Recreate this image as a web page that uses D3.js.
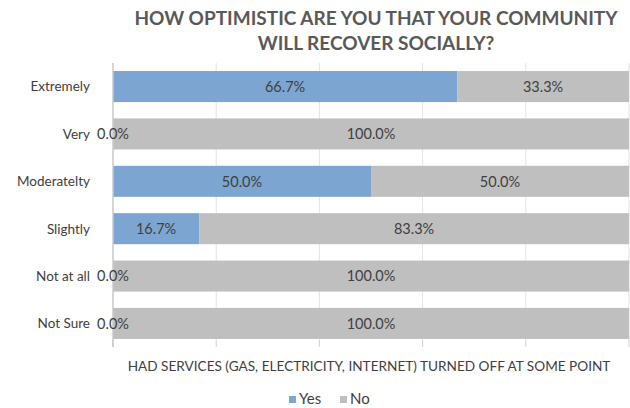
<!DOCTYPE html>
<html>
<head>
<meta charset="utf-8">
<script src="https://cdn.jsdelivr.net/npm/d3@7"></script>
<style>
  body { margin: 0; background: #fff; }
  svg { font-family: "Lato", "Open Sans", sans-serif; }
</style>
</head>
<body>
<svg id="viz"></svg>
<script>
// the data
var categories = ["Extremely", "Very", "Moderatelty", "Slightly", "Not at all", "Not Sure"];
var yesValues = [66.7, 0.0, 50.0, 16.7, 0.0, 0.0];
var noValues = [33.3, 100.0, 50.0, 83.3, 100.0, 100.0];
var seriesNames = ["Yes", "No"];
var seriesColors = ["#7ca5d1", "#bfbfbf"];
var xTicks = [0, 20, 40, 60, 80, 100];
var titleLines = ["HOW OPTIMISTIC ARE YOU THAT YOUR COMMUNITY", "WILL RECOVER SOCIALLY?"];
var axisTitle = "HAD SERVICES (GAS, ELECTRICITY, INTERNET) TURNED OFF AT SOME POINT";

// set up the svg
var w = 630;
var h = 408;
var svg = d3.select("#viz").attr("width", w).attr("height", h);

var plotLeft = 113, plotRight = 629, plotTop = 63, plotBottom = 347;

var x = d3.scaleLinear().domain([0, 100]).range([plotLeft, plotRight]);
var y = d3.scaleBand().domain(categories).range([plotTop, plotBottom]).paddingInner(0.345).paddingOuter(0.17);

// title
svg.append("g").selectAll("text")
  .data(titleLines)
  .enter().append("text")
  .attr("x", 376)
  .attr("y", function(d, i) { return 25 + i * 25; })
  .attr("text-anchor", "middle")
  .attr("font-size", 19)
  .attr("font-weight", "bold")
  .attr("fill", "#595959")
  .text(function(d) { return d; });

// gridlines
svg.append("g").selectAll("line")
  .data(xTicks.slice(1))
  .enter().append("line")
  .attr("x1", function(d) { return x(d); })
  .attr("x2", function(d) { return x(d); })
  .attr("y1", plotTop)
  .attr("y2", plotBottom - 7)
  .attr("stroke", "#e3e3e3")
  .attr("stroke-width", 1);

// bottom tick marks
svg.append("g").selectAll("line")
  .data(xTicks)
  .enter().append("line")
  .attr("x1", function(d) { return x(d); })
  .attr("x2", function(d) { return x(d); })
  .attr("y1", plotBottom - 7)
  .attr("y2", plotBottom)
  .attr("stroke", "#d0d0d0")
  .attr("stroke-width", 1);

// stacked bars
var rows = categories.map(function(c, i) {
  return { name: c, values: [yesValues[i], noValues[i]] };
});

var segs = [];
rows.forEach(function(r) {
  var x0 = 0;
  r.values.forEach(function(v, k) {
    segs.push({ cat: r.name, k: k, x0: x0, x1: x0 + v, v: v });
    x0 += v;
  });
});

svg.append("g").selectAll("rect")
  .data(segs)
  .enter().append("rect")
  .attr("x", function(d) { return x(d.x0); })
  .attr("width", function(d) { return x(d.x1) - x(d.x0); })
  .attr("y", function(d) { return y(d.cat); })
  .attr("height", y.bandwidth())
  .attr("fill", function(d) { return seriesColors[d.k]; });

// left axis line
svg.append("line")
  .attr("x1", plotLeft).attr("x2", plotLeft)
  .attr("y1", plotTop).attr("y2", plotBottom)
  .attr("stroke", "#c8c8c8")
  .attr("stroke-width", 1.5);

// value labels
svg.append("g").selectAll("text")
  .data(segs)
  .enter().append("text")
  .attr("x", function(d) { return (x(d.x0) + x(d.x1)) / 2; })
  .attr("y", function(d) { return y(d.cat) + y.bandwidth() / 2; })
  .attr("dy", "0.36em")
  .attr("text-anchor", "middle")
  .attr("font-size", 14.5)
  .attr("fill", "#404040")
  .text(function(d) { return d.v.toFixed(1) + "%"; });

// category labels
svg.append("g").selectAll("text")
  .data(categories)
  .enter().append("text")
  .attr("x", 90)
  .attr("y", function(d) { return y(d) + y.bandwidth() / 2; })
  .attr("dy", "0.36em")
  .attr("text-anchor", "end")
  .attr("font-size", 13.5)
  .attr("fill", "#404040")
  .text(function(d) { return d; });

// axis title
svg.append("text")
  .attr("x", 369)
  .attr("y", 371)
  .attr("text-anchor", "middle")
  .attr("font-size", 13.6)
  .attr("fill", "#404040")
  .text(axisTitle);

// legend
var legend = svg.append("g").selectAll("g")
  .data(seriesNames)
  .enter().append("g")
  .attr("transform", function(d, i) { return "translate(" + (289 + i * 51) + ",0)"; });

legend.append("rect")
  .attr("x", 0).attr("y", 396)
  .attr("width", 7).attr("height", 7)
  .attr("fill", function(d, i) { return seriesColors[i]; });

legend.append("text")
  .attr("x", 10)
  .attr("y", 404)
  .attr("font-size", 15)
  .attr("fill", "#404040")
  .text(function(d) { return d; });
</script>
</body>
</html>
